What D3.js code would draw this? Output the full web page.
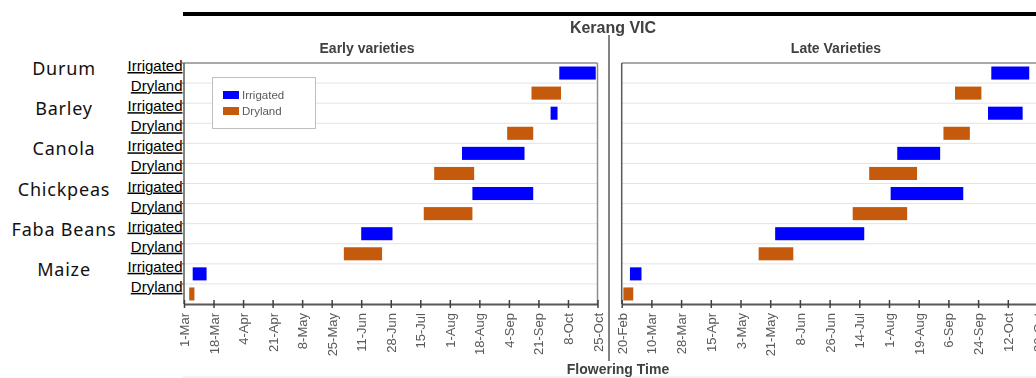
<!DOCTYPE html>
<html>
<head>
<meta charset="utf-8">
<script src="https://cdn.jsdelivr.net/npm/d3@7"></script>
<style>
  body { margin: 0; background: #fff; }
  svg { display: block; }
</style>
</head>
<body>
<svg id="chart" width="1036" height="378"></svg>
<script>
// Flowering windows at Kerang VIC, early and late sown varieties
const crops = ["Durum", "Barley", "Canola", "Chickpeas", "Faba Beans", "Maize"];
const systems = ["Irrigated", "Dryland"];
const rows = crops.flatMap(c => systems.map(s => c + "|" + s));

const earlyStart = ["3-Oct", "17-Sep", "28-Sep", "3-Sep", "8-Aug", "23-Jul", "14-Aug", "17-Jul", "11-Jun", "1-Jun", "6-Mar", "4-Mar"];
const earlyEnd   = ["24-Oct", "4-Oct", "2-Oct", "18-Sep", "13-Sep", "15-Aug", "18-Sep", "14-Aug", "29-Jun", "23-Jun", "14-Mar", "7-Mar"];
const lateStart  = ["2-Oct", "10-Sep", "30-Sep", "3-Sep", "6-Aug", "20-Jul", "2-Aug", "10-Jul", "24-May", "14-May", "25-Feb", "21-Feb"];
const lateEnd    = ["25-Oct", "26-Sep", "21-Oct", "19-Sep", "1-Sep", "18-Aug", "15-Sep", "12-Aug", "17-Jul", "4-Jun", "4-Mar", "27-Feb"];

const earlyTicks = ["1-Mar", "18-Mar", "4-Apr", "21-Apr", "8-May", "25-May", "11-Jun", "28-Jun", "15-Jul", "1-Aug", "18-Aug", "4-Sep", "21-Sep", "8-Oct", "25-Oct"];
const lateTicks  = ["20-Feb", "10-Mar", "28-Mar", "15-Apr", "3-May", "21-May", "8-Jun", "26-Jun", "14-Jul", "1-Aug", "19-Aug", "6-Sep", "24-Sep", "12-Oct", "30-Oct"];

const colors = { Irrigated: "#0000ff", Dryland: "#c55a11" };

const parse = s => d3.timeParse("%d-%b-%Y")(s + "-2021");
const fmt = d3.timeFormat("%-d-%b");

const svg = d3.select("#chart");

const defs = svg.append("defs");
defs.append("filter").attr("id", "soft")
  .attr("x", "-5%").attr("y", "-5%").attr("width", "110%").attr("height", "110%")
  .append("feGaussianBlur").attr("stdDeviation", 0.5);

// shared row scale
const plotTop = 63, plotBottom = 304;
const y = d3.scaleBand().domain(rows).range([plotTop, plotBottom])
  .paddingInner(0.35).paddingOuter(0.175);
const rowTop = r => y(r) - (y.step() - y.bandwidth()) / 2;

// ---- labels to the left of the chart ----
const labels = svg.append("g");
rows.forEach(r => {
  const [crop, sys] = r.split("|");
  labels.append("text")
    .attr("x", 182.5).attr("y", rowTop(r) + 8)
    .attr("text-anchor", "end")
    .attr("font-family", "Liberation Sans, Arial, sans-serif")
    .attr("font-size", 15)
    .attr("text-decoration", "underline")
    .attr("fill", "#000")
    .text(sys);
  if (sys === "Irrigated") {
    labels.append("text")
      .attr("x", 64).attr("y", rowTop(r) + 12)
      .attr("text-anchor", "middle")
      .attr("font-family", "Noto Sans, sans-serif")
      .attr("font-size", 18)
      .attr("letter-spacing", 0.8)
      .attr("fill", "#111")
      .text(crop);
  }
});

// ---- chart ----
const g = svg.append("g").attr("filter", "url(#soft)");

g.append("line").attr("x1", 183).attr("x2", 1036).attr("y1", 14).attr("y2", 14)
  .attr("stroke", "#000").attr("stroke-width", 4);
g.append("line").attr("x1", 183).attr("x2", 1036).attr("y1", 377).attr("y2", 377)
  .attr("stroke", "#e8e8e8").attr("stroke-width", 1);

g.append("text").attr("x", 613).attr("y", 33)
  .attr("text-anchor", "middle")
  .attr("font-family", "Liberation Sans, Arial, sans-serif")
  .attr("font-weight", "bold").attr("font-size", 16).attr("fill", "#404040")
  .text("Kerang VIC");

g.append("line").attr("x1", 609).attr("x2", 609).attr("y1", 35).attr("y2", 361)
  .attr("stroke", "#595959").attr("stroke-width", 1.5);

g.append("text").attr("x", 618).attr("y", 374)
  .attr("text-anchor", "middle")
  .attr("font-family", "Liberation Sans, Arial, sans-serif")
  .attr("font-weight", "bold").attr("font-size", 14).attr("fill", "#404040")
  .text("Flowering Time");

function panel(opts) {
  const x = d3.scaleTime()
    .domain([parse(opts.ticks[0]), parse(opts.ticks[opts.ticks.length - 1])])
    .range([opts.x0, opts.x1]);
  const p = g.append("g");
  const right = Math.min(opts.x1, 1036);

  // title
  p.append("text").attr("x", opts.titleX).attr("y", 53)
    .attr("text-anchor", "middle")
    .attr("font-family", "Liberation Sans, Arial, sans-serif")
    .attr("font-weight", "bold").attr("font-size", 14).attr("fill", "#404040")
    .text(opts.title);

  // horizontal grid lines between rows
  p.selectAll(".grid").data(rows.slice(1)).join("line")
    .attr("x1", opts.x0).attr("x2", right)
    .attr("y1", d => rowTop(d)).attr("y2", d => rowTop(d))
    .attr("stroke", "#e3e3e3").attr("stroke-width", 1);

  // plot frame
  p.append("line").attr("x1", opts.x0).attr("x2", right).attr("y1", plotTop).attr("y2", plotTop)
    .attr("stroke", "#8c8c8c").attr("stroke-width", 1.5);
  if (opts.x1 <= 1036) {
    p.append("line").attr("x1", opts.x1).attr("x2", opts.x1).attr("y1", plotTop).attr("y2", plotBottom)
      .attr("stroke", "#8c8c8c").attr("stroke-width", 1.5);
  }

  // vertical axis with row ticks
  const ya = p.append("g").attr("transform", `translate(${opts.x0},0)`)
    .call(d3.axisLeft(y).tickValues(opts.rowTicks ? rows : []).tickSize(3).tickFormat(""));
  ya.select(".domain").attr("d", `M0,${plotTop}V${plotBottom}`).attr("stroke", "#595959").attr("stroke-width", 1.5);
  ya.selectAll(".tick line").attr("stroke", "#595959")
    .attr("transform", d => `translate(0,${rowTop(d) - y(d) - y.bandwidth() / 2})`);

  // bars
  p.selectAll(".bar").data(rows).join("rect")
    .attr("x", (d, i) => x(parse(opts.start[i])))
    .attr("width", (d, i) => x(parse(opts.end[i])) - x(parse(opts.start[i])))
    .attr("y", d => y(d))
    .attr("height", y.bandwidth())
    .attr("fill", d => colors[d.split("|")[1]]);

  // date axis
  const xa = p.append("g").attr("transform", `translate(0,${plotBottom})`)
    .call(d3.axisBottom(x).tickValues(opts.ticks.map(parse)).tickFormat(fmt).tickSizeOuter(0));
  xa.select(".domain").attr("stroke", "#595959").attr("stroke-width", 2);
  xa.selectAll(".tick line").attr("y1", -4).attr("y2", 4).attr("stroke", "#404040").attr("stroke-width", 1.5);
  xa.selectAll(".tick text")
    .attr("transform", "translate(0,9) rotate(-90)")
    .attr("x", 0).attr("y", 0).attr("dy", "0.35em")
    .attr("text-anchor", "end")
    .attr("font-family", "Liberation Sans, Arial, sans-serif")
    .attr("font-size", 13).attr("fill", "#595959");
  return p;
}

const early = panel({
  title: "Early varieties", titleX: 367, x0: 184, x1: 597.5,
  ticks: earlyTicks, start: earlyStart, end: earlyEnd, rowTicks: true
});
panel({
  title: "Late Varieties", titleX: 836, x0: 621.7, x1: 1037.5,
  ticks: lateTicks, start: lateStart, end: lateEnd, rowTicks: false
});

// legend
const lg = early.append("g");
lg.append("rect").attr("x", 212.5).attr("y", 77.5).attr("width", 103).attr("height", 51)
  .attr("fill", "#fff").attr("stroke", "#bfbfbf");
systems.forEach((s, i) => {
  lg.append("rect").attr("x", 223).attr("y", 91 + i * 16).attr("width", 16).attr("height", 8)
    .attr("fill", colors[s]);
  lg.append("text").attr("x", 242).attr("y", 95 + i * 16).attr("dy", "0.35em")
    .attr("font-family", "Liberation Sans, Arial, sans-serif")
    .attr("font-size", 11.5).attr("fill", "#595959")
    .text(s);
});
</script>
</body>
</html>
